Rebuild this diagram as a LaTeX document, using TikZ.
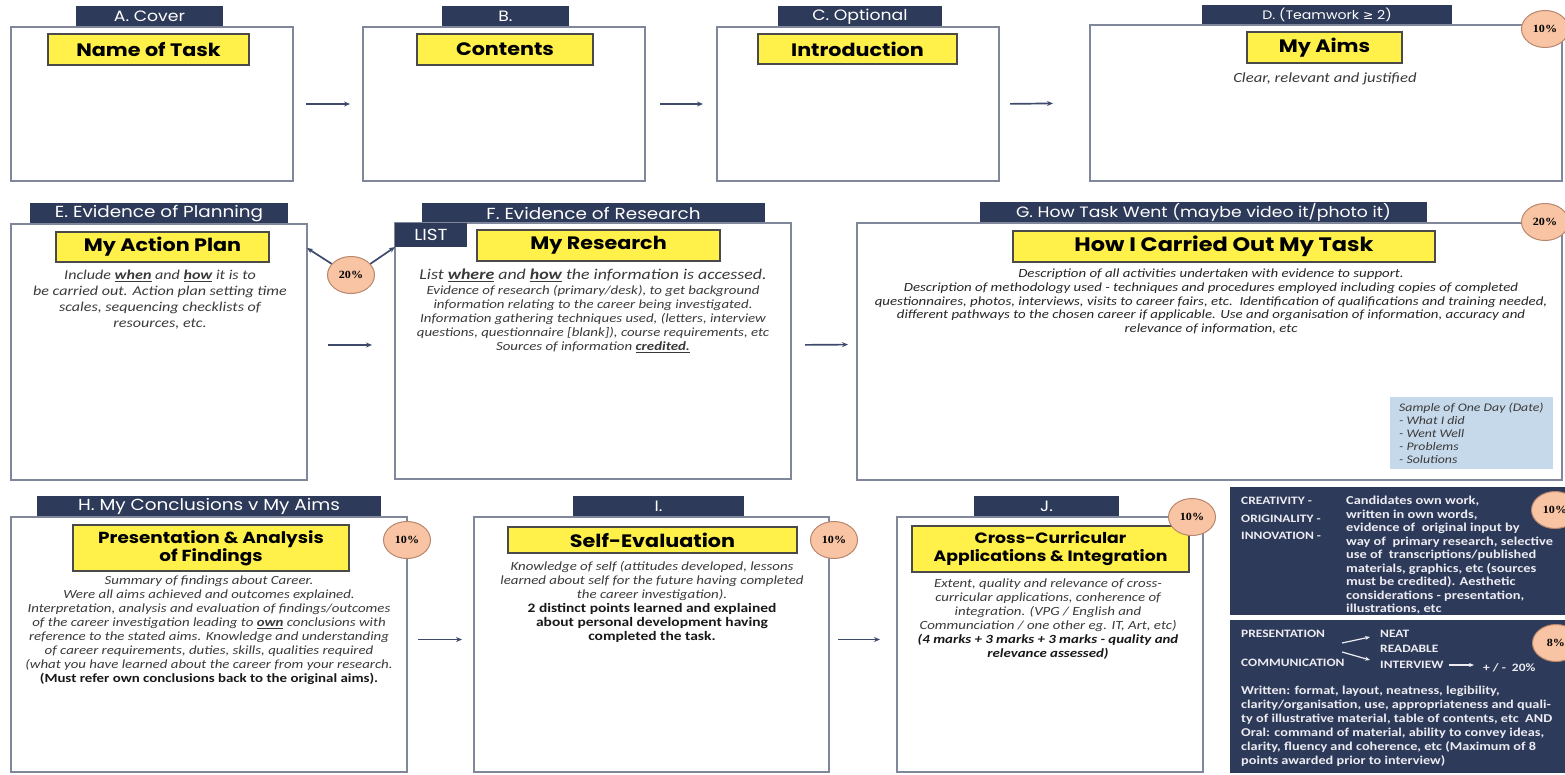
\documentclass[tikz,border=0pt]{standalone}
\usepackage{fontspec}
\setmainfont{Carlito}[FakeStretch=1.19]
\newfontfamily\comic{Poppins}[FakeStretch=1.15]
\newfontfamily\badgefont{Liberation Serif}[FakeStretch=1.1]
\newfontfamily\dvs{DejaVu Sans}
\usetikzlibrary{arrows.meta,shapes.geometric,calc}
\definecolor{navy}{HTML}{2E3A59}
\definecolor{boxline}{HTML}{80879A}
\definecolor{ylw}{HTML}{FFF04A}
\definecolor{ttlline}{HTML}{4A4A4A}
\definecolor{peach}{HTML}{F8C4A4}
\definecolor{badgeline}{HTML}{B8866C}
\definecolor{lblue}{HTML}{C6D9EB}
\definecolor{arrowc}{HTML}{3D4A6B}
\definecolor{bodytxt}{HTML}{3A3A3A}
\definecolor{paneltxt}{HTML}{ECECF2}
\begin{document}
\begin{tikzpicture}[x=1pt,y=-1pt,
  box/.style={draw=boxline, line width=1.6pt, fill=white, inner sep=0pt, outer sep=0pt, anchor=north west},
  tab/.style={fill=navy, text=white, inner sep=0pt, outer sep=0pt, anchor=north west, font=\comic\fontsize{15}{18}\selectfont},
  ttl/.style={draw=ttlline, line width=1.2pt, fill=ylw, inner sep=0pt, outer sep=0pt, anchor=north west, align=center, font=\comic\bfseries\fontsize{18}{20}\selectfont},
  body/.style={anchor=north, align=center, text=bodytxt, inner sep=0pt, font=\itshape\fontsize{12.5}{14}\selectfont},
  badge/.style={ellipse, draw=badgeline, fill=peach, line width=1pt, minimum width=47pt, minimum height=37pt, inner sep=0pt, font=\badgefont\bfseries\fontsize{11}{12}\selectfont},
  arr/.style={draw=arrowc, line width=1.7pt, -{Stealth[length=6pt,width=5pt]}},
  warr/.style={draw=paneltxt, line width=1.2pt, -{Stealth[length=5pt,width=4pt]}},
  panel/.style={fill=navy, inner sep=0pt, outer sep=0pt, anchor=north west},
  ptxt/.style={text=paneltxt, inner sep=0pt, align=left, font=\bfseries\fontsize{12}{14}\selectfont}
]
\useasboundingbox (0,0) rectangle (1565,774);
\fill[white] (0,0) rectangle (1565,774);

% ---------- Row 1 ----------
\node[tab, minimum width=147pt, minimum height=21pt] (tA) at (76,6) {A. Cover};
\node[box, minimum width=282pt, minimum height=154pt] (A) at (11,27) {};
\node[ttl, minimum width=201pt, minimum height=31pt] (nA) at (48,34) {Name of Task};

\node[tab, minimum width=127pt, minimum height=21pt] (tB) at (442,6) {B.};
\node[box, minimum width=282pt, minimum height=154pt] (B) at (363,27) {};
\node[ttl, minimum width=176pt, minimum height=31pt] (nB) at (417,34) {Contents};

\node[tab, minimum width=164pt, minimum height=21pt] (tC) at (778,6) {C. Optional};
\node[box, minimum width=282pt, minimum height=154pt] (C) at (717,27) {};
\node[ttl, minimum width=199pt, minimum height=30pt] (nC) at (758,34) {Introduction};

\node[tab, minimum width=250pt, minimum height=20pt, font=\comic\fontsize{12.3}{15}\selectfont] (tD) at (1202,5) {D. (Teamwork {\dvs ≥} 2)};
\node[box, minimum width=472pt, minimum height=156pt] (D) at (1090,25) {};
\node[ttl, minimum width=155pt, minimum height=31pt] (nD) at (1247,32) {My Aims};
\node[body, font=\itshape\fontsize{14}{16}\selectfont] (xD) at (1325,73) {Clear, relevant and justified};
\node[badge] (bD) at (1545,29) {10\%};

\draw[arr, shorten <=13pt, shorten >=13pt] (A.east) -- (B.west);
\draw[arr, shorten <=15pt, shorten >=14pt] (B.east) -- (C.west);
\draw[arr, shorten <=11pt, shorten >=37pt] (C.east) -- (D.west);

% ---------- Row 2 ----------
\node[tab, minimum width=258pt, minimum height=21pt, font=\comic\fontsize{16}{18}\selectfont] (tE) at (30,203) {E. Evidence of Planning};
\node[box, minimum width=296pt, minimum height=256pt] (E) at (11,224) {};
\node[ttl, minimum width=213pt, minimum height=30pt] (nE) at (56,232) {My Action Plan};
\node[body, font=\itshape\fontsize{13.5}{16}\selectfont] (xE) at (160,270) {Include \underline{\textbf{when}} and \underline{\textbf{how}} it is to\\be carried out. Action plan setting time\\scales, sequencing checklists of\\resources, etc.};
\node[badge] (b20) at (351,275) {20\%};

\node[tab, minimum width=343pt, minimum height=20pt, font=\comic\fontsize{16}{18}\selectfont] (tF) at (422,203) {F. Evidence of Research};
\node[box, minimum width=396pt, minimum height=256pt] (F) at (395,223) {};
\node[tab, minimum width=72pt, minimum height=24pt, font=\comic\fontsize{16}{18}\selectfont] (LIST) at (395,223) {LIST};
\node[ttl, minimum width=243pt, minimum height=31pt] (nF) at (477,230) {My Research};
\node[body, font=\itshape\fontsize{15}{17}\selectfont] (xF1) at (593,269) {List \underline{\textbf{where}} and \underline{\textbf{how}} the information is accessed.};
\node[body] (xF2) at (593,285) {Evidence of research (primary/desk), to get background\\information relating to the career being investigated.\\Information gathering techniques used, (letters, interview\\questions, questionnaire [blank]), course requirements, etc\\Sources of information \underline{\textbf{credited.}}};

\node[tab, minimum width=447pt, minimum height=21pt] (tG) at (980,202) {G. How Task Went (maybe video it/photo it)};
\node[box, minimum width=705pt, minimum height=257pt] (G) at (857,223) {};
\node[ttl, minimum width=422pt, minimum height=31pt, font=\comic\bfseries\fontsize{19.5}{21}\selectfont] (nG) at (1013,231) {How I Carried Out My Task};
\node[body, text=black!85, font=\itshape\fontsize{12.5}{13.7}\selectfont] (xG) at (1211,269) {Description of all activities undertaken with evidence to support.\\Description of methodology used - techniques and procedures employed including copies of completed\\questionnaires, photos, interviews, visits to career fairs, etc.\ \ Identification of qualifications and training needed,\\different pathways to the chosen career if applicable. Use and organisation of information, accuracy and\\relevance of information, etc};
\node[fill=lblue, inner sep=0pt, outer sep=0pt, anchor=north west, minimum width=163pt, minimum height=72pt] (sG) at (1390,397) {};
\node[anchor=north west, inner sep=0pt, align=left, text=bodytxt, font=\itshape\fontsize{11.6}{13}\selectfont] (sGt) at (1399,403) {Sample of One Day (Date)\\- What I did\\- Went Well\\- Problems\\- Solutions};
\node[badge] (bG) at (1545,222) {20\%};

\draw[arr] (b20.150) -- ($(E.north east)+(0,24)$);
\draw[arr] (b20.30) -- (LIST.south west);
\draw[arr, shorten <=21pt, shorten >=23pt] ($(E.east)+(0,-7)$) -- ($(F.west)+(0,-6)$);
\draw[arr, shorten <=14pt, shorten >=9pt] ($(F.east)+(0,-6)$) -- ($(G.west)+(0,-7)$);

% ---------- Row 3 ----------
\node[tab, minimum width=344pt, minimum height=21pt, font=\comic\fontsize{16}{18}\selectfont] (tH) at (37,496) {H. My Conclusions v My Aims};
\node[box, minimum width=396pt, minimum height=255pt] (H) at (11,517) {};
\node[ttl, minimum width=276pt, minimum height=46pt, font=\comic\bfseries\fontsize{16}{18}\selectfont] (nH) at (73,525) {Presentation \& Analysis\\of Findings};
\node[badge] (bH) at (407,540) {10\%};
\node[body, font=\itshape\fontsize{12.5}{14}\selectfont] (xH) at (209,576) {Summary of findings about Career.\\Were all aims achieved and outcomes explained.\\Interpretation, analysis and evaluation of findings/outcomes\\of the career investigation leading to \underline{\textbf{own}} conclusions with\\reference to the stated aims. Knowledge and understanding\\of career requirements, duties, skills, qualities required\\(what you have learned about the career from your research.\\{\upshape\bfseries\color{black!90}(Must refer own conclusions back to the original aims).}};

\node[tab, minimum width=171pt, minimum height=21pt] (tI) at (573,496) {I.};
\node[box, minimum width=355pt, minimum height=255pt] (I) at (474,517) {};
\node[ttl, minimum width=289pt, minimum height=26pt] (nI) at (508,527) {Self-Evaluation};
\node[badge] (bI) at (834,540) {10\%};
\node[body, font=\itshape\fontsize{12.5}{14}\selectfont] (xI) at (652,561) {Knowledge of self (attitudes developed, lessons\\learned about self for the future having completed\\the career investigation).\\{\upshape\bfseries\color{black!90}\fontsize{13}{14}\selectfont 2 distinct points learned and explained}\\{\upshape\bfseries\color{black!90}\fontsize{13}{14}\selectfont about personal development having}\\{\upshape\bfseries\color{black!90}\fontsize{13}{14}\selectfont completed the task.}};

\node[tab, minimum width=145pt, minimum height=21pt] (tJ) at (974,496) {J.};
\node[box, minimum width=306pt, minimum height=255pt] (J) at (897,517) {};
\node[ttl, minimum width=277pt, minimum height=46pt, font=\comic\bfseries\fontsize{15}{18}\selectfont] (nJ) at (912,526) {Cross-Curricular\\Applications \& Integration};
\node[badge] (bJ) at (1192,517) {10\%};
\node[body, font=\itshape\fontsize{12.5}{14}\selectfont] (xJ) at (1048,579) {Extent, quality and relevance of cross-\\curricular applications, conherence of\\integration. (VPG / English and\\Communciation / one other eg. IT, Art, etc)\\{\bfseries\color{black!90}(4 marks + 3 marks + 3 marks - quality and}\\{\bfseries\color{black!90}relevance assessed)}};

\draw[arr, shorten <=11pt, shorten >=12pt] ($(H.east)+(0,-5)$) -- ($(I.west)+(0,-5)$);
\draw[arr, shorten <=9pt, shorten >=17pt] ($(I.east)+(0,-5)$) -- ($(J.west)+(0,-5)$);

% ---------- Right panels ----------
\node[panel, minimum width=335pt, minimum height=128pt] (P1) at (1230,487) {};
\node[ptxt, anchor=north west, font=\bfseries\fontsize{11.3}{17.5}\selectfont] (crea) at (1241,497) {CREATIVITY -\\ORIGINALITY -\\INNOVATION -};
\node[ptxt, anchor=north west, font=\bfseries\fontsize{12.1}{13.5}\selectfont] (creat) at (1346,496) {Candidates own work,\\written in own words,\\evidence of\ \ original input by\\way of\ \ primary research, selective\\use of\ \ transcriptions/published\\materials, graphics, etc (sources\\must be credited). Aesthetic\\considerations - presentation,\\illustrations, etc};
\node[badge] (bP1) at (1555,510) {10\%};

\node[panel, minimum width=335pt, minimum height=153pt] (P2) at (1230,620) {};
\node[ptxt, anchor=west, font=\bfseries\fontsize{11.3}{13}\selectfont] (pres) at (1241,634) {PRESENTATION};
\node[ptxt, anchor=west, font=\bfseries\fontsize{11.3}{13}\selectfont] (comm) at (1241,663) {COMMUNICATION};
\node[ptxt, anchor=west, font=\bfseries\fontsize{11.3}{13}\selectfont] (neat) at (1380,634) {NEAT};
\node[ptxt, anchor=west, font=\bfseries\fontsize{11.3}{13}\selectfont] (read) at (1380,649) {READABLE};
\node[ptxt, anchor=west, font=\bfseries\fontsize{11.3}{13}\selectfont] (intv) at (1380,665) {INTERVIEW};
\node[ptxt, anchor=west, font=\bfseries\fontsize{11.3}{13}\selectfont] (pm) at (1483,668) {+ / -\ \ 20\%};
\coordinate (f1) at (1342,643);
\coordinate (f2) at (1342,652);
\draw[warr] (f1) -- ($(neat.west)+(-10,3)$);
\draw[warr] (f2) -- ($(intv.west)+(-10,-5)$);
\draw[warr, shorten <=5pt, shorten >=9pt] (intv.east) -- ($(pm.west)+(0,-3)$);
\node[ptxt, anchor=north west] (ptext) at (1241,686) {Written: format, layout, neatness, legibility,\\clarity/organisation, use, appropriateness and quali-\\ty of illustrative material, table of contents, etc\ \ AND\\Oral: command of material, ability to convey ideas,\\clarity, fluency and coherence, etc (Maximum of 8\\points awarded prior to interview)};
\node[badge] (bP2) at (1556,643) {8\%};
\end{tikzpicture}
\end{document}
